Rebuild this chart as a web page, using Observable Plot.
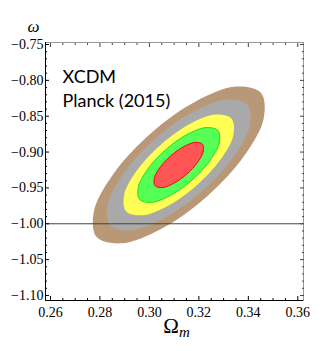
<!DOCTYPE html>
<html>
<head>
<meta charset="utf-8">
<script src="https://cdn.jsdelivr.net/npm/d3@7"></script>
<script src="https://cdn.jsdelivr.net/npm/@observablehq/plot@0.6"></script>
<style>
  html, body { margin: 0; padding: 0; background: #fff; }
</style>
</head>
<body>
<div id="chart"></div>
<script>
// Contour outlines (Ω_m, ω), outermost first
const brownOm = [0.34509,0.34621,0.33812,0.32301,0.30491,0.28868,0.27867,0.27756,0.28564,0.30075,0.31885,0.33508];
const brownW  = [-0.81745,-0.85320,-0.90630,-0.96254,-1.00683,-1.02732,-1.01851,-0.98276,-0.92966,-0.87342,-0.82913,-0.80864];
const grayOm  = [0.33961,0.34053,0.33377,0.32115,0.30605,0.29250,0.28415,0.28323,0.28999,0.30261,0.31771,0.33126];
const grayW   = [-0.83405,-0.86386,-0.90817,-0.95511,-0.99210,-1.00923,-1.00191,-0.97210,-0.92779,-0.88085,-0.84386,-0.82673];
const yellowOm = [0.33321,0.33393,0.32874,0.31903,0.30741,0.29699,0.29055,0.28983,0.29502,0.30473,0.31635,0.32678];
const yellowW  = [-0.85342,-0.87639,-0.91051,-0.94662,-0.97507,-0.98821,-0.98254,-0.95957,-0.92546,-0.88934,-0.86089,-0.84775];
const greenOm = [0.32772,0.32825,0.32439,0.31718,0.30855,0.30081,0.29604,0.29551,0.29937,0.30658,0.31521,0.32295];
const greenW  = [-0.87002,-0.88706,-0.91238,-0.93920,-0.96034,-0.97012,-0.96594,-0.94890,-0.92359,-0.89676,-0.87563,-0.86584];
const redOm = [0.32145,0.32177,0.31944,0.31509,0.30987,0.30520,0.30231,0.30199,0.30432,0.30867,0.31389,0.31856];
const redW  = [-0.88902,-0.89932,-0.91462,-0.93082,-0.94358,-0.94948,-0.94694,-0.93664,-0.92134,-0.90514,-0.89238,-0.88648];

const referenceW = [-1.00];

const xTicks = [0.26, 0.28, 0.30, 0.32, 0.34, 0.36];
const xMinor = [0.265, 0.27, 0.275, 0.285, 0.29, 0.295, 0.305, 0.31, 0.315, 0.325, 0.33, 0.335, 0.345, 0.35, 0.355];
const yTicks = [-0.75, -0.80, -0.85, -0.90, -0.95, -1.00, -1.05, -1.10];
const yMinor = [-0.76, -0.77, -0.78, -0.79, -0.81, -0.82, -0.83, -0.84, -0.86, -0.87, -0.88, -0.89,
                -0.91, -0.92, -0.93, -0.94, -0.96, -0.97, -0.98, -0.99, -1.01, -1.02, -1.03, -1.04,
                -1.06, -1.07, -1.08, -1.09];

const modelLabel = "XCDM";
const dataLabel = "Planck (2015)";

const pts = (xs, ys) => xs.map((x, i) => ({x, y: ys[i]}));
const contours = [
  {data: pts(brownOm, brownW), fill: "#B99878", stroke: "none"},
  {data: pts(grayOm, grayW), fill: "#A9A9A9", stroke: "none"},
  {data: pts(yellowOm, yellowW), fill: "#FFFF55", stroke: "none"},
  {data: pts(greenOm, greenW), fill: "#55FF55", stroke: "#22DD22"},
  {data: pts(redOm, redW), fill: "#FF5555", stroke: "#DD1111"}
];

const serif = "'Liberation Serif', 'DejaVu Serif', serif";
const fmt = v => (v < 0 ? "\u2212" : "") + Math.abs(v).toFixed(2);

const chart = Plot.plot({
  width: 332,
  height: 351,
  marginLeft: 45,
  marginRight: 29,
  marginTop: 42,
  marginBottom: 51,
  style: {fontFamily: serif, fontSize: "13px", color: "#000", background: "#fff"},
  x: {domain: [0.258, 0.3623], label: null},
  y: {domain: [-1.107, -0.7472], label: null},
  marks: [
    ...contours.map(c => Plot.line(c.data, {x: "x", y: "y", curve: "catmull-rom-closed", fill: c.fill, stroke: c.stroke, strokeWidth: 1})),
    Plot.ruleY(referenceW, {stroke: "#444", strokeWidth: 1}),
    Plot.frame({stroke: "#999", strokeWidth: 1}),
    Plot.ruleX([0.258], {stroke: "#000", strokeWidth: 1}),
    Plot.ruleY([-1.107], {stroke: "#000", strokeWidth: 1}),
    // major ticks inward
    Plot.axisX(xTicks, {anchor: "bottom", tickSize: -4, text: null, stroke: "#000"}),
    Plot.axisX(xTicks, {anchor: "top", tickSize: -4, text: null, stroke: "#444"}),
    Plot.axisY(yTicks, {anchor: "left", tickSize: -4, text: null, stroke: "#000"}),
    Plot.axisY(yTicks, {anchor: "right", tickSize: -4, text: null, stroke: "#444"}),
    // minor ticks inward
    Plot.axisX(xMinor, {anchor: "bottom", tickSize: -2, text: null, stroke: "#000"}),
    Plot.axisX(xMinor, {anchor: "top", tickSize: -2, text: null, stroke: "#444"}),
    Plot.axisY(yMinor, {anchor: "left", tickSize: -2, text: null, stroke: "#000"}),
    Plot.axisY(yMinor, {anchor: "right", tickSize: -2, text: null, stroke: "#444"}),
    // tick labels
    Plot.axisX(xTicks, {anchor: "bottom", tickSize: 0, tickPadding: 7, tickFormat: d => d.toFixed(2), fontSize: 14, fontFamily: serif}),
    Plot.axisY(yTicks, {anchor: "left", tickSize: 0, tickPadding: 2, tickFormat: fmt, fontSize: 14, fontFamily: serif}),
    // axis titles
    Plot.text(["ω"], {frameAnchor: "top-left", dx: -18, dy: -23, fontSize: 17, fontStyle: "italic", fontFamily: serif}),
    Plot.text(["Ωm"], {frameAnchor: "bottom", dx: 2, dy: 32, fontSize: 21, fontFamily: serif, className: "xlab"}),
    // annotation
    Plot.text([modelLabel], {frameAnchor: "top-left", dx: 17, dy: 28, textAnchor: "start", fontSize: 18, fontFamily: "Lato, sans-serif"}),
    Plot.text([dataLabel], {frameAnchor: "top-left", dx: 17, dy: 52, textAnchor: "start", fontSize: 18, fontFamily: "Lato, sans-serif"})
  ]
});

document.getElementById("chart").appendChild(chart);

// subscript m in Ω_m
d3.select(chart).selectAll("text").each(function() {
  const t = d3.select(this);
  if (t.text() === "Ωm") {
    t.text("Ω");
    t.append("tspan").text("m").attr("font-style", "italic").attr("font-size", 15).attr("dy", "0.3em");
  }
});
</script>
</body>
</html>
